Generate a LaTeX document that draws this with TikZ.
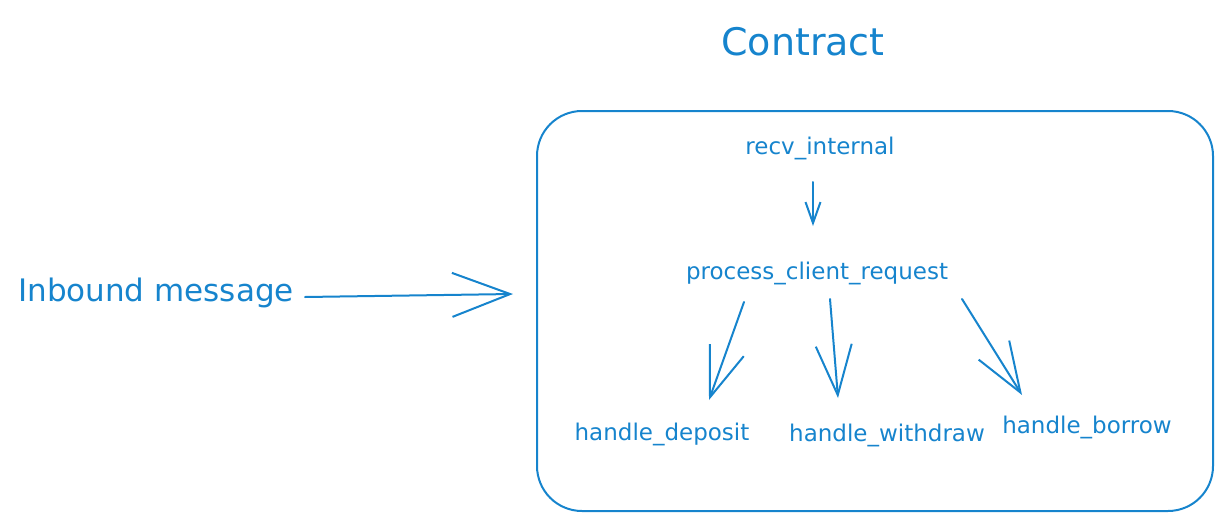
\documentclass[tikz,border=0pt]{standalone}
\usepackage{fontspec}
\setmainfont{DejaVu Sans}
\usetikzlibrary{arrows.meta,calc}
\definecolor{mainblue}{RGB}{22,132,205}
\tikzset{
  lbl/.style={text=mainblue, inner sep=0pt, font=\fontsize{23}{26}\selectfont},
  big/.style={text=mainblue, inner sep=0pt, font=\fontsize{31}{35}\selectfont},
  arr/.style={draw=mainblue, line width=2pt, line cap=round, line join=round},
  bigtip/.style={-{Straight Barb[length=58pt,width=44pt,line width=2pt]}},
  midtip/.style={-{Straight Barb[length=50pt,width=36pt,line width=2pt]}},
  smalltip/.style={-{Straight Barb[length=21pt,width=15pt,line width=2pt]}},
}
\begin{document}
\begin{tikzpicture}[x=1pt,y=-1pt]
\useasboundingbox (0,0) rectangle (1231,530);
\node[big, font=\fontsize{38}{42}\selectfont] (title) at (803,42) {Contract};
\node[draw=mainblue, line width=2pt, rounded corners=45pt, minimum width=676pt, minimum height=400pt, anchor=north west] (box) at (536,110) {};
\node[big] (inbound) at (156,293) {Inbound message};
\node[lbl] (recv) at (820,148) {recv\_internal};
\node[lbl] (proc) at (817,273) {process\_client\_request};
\node[lbl] (dep) at (662,434) {handle\_deposit};
\node[lbl] (wd) at (887,435) {handle\_withdraw};
\node[lbl] (bor) at (1087,427) {handle\_borrow};
\draw[arr,bigtip] ([shift={(0,4)}]inbound.east -| 305,0) -- ([shift={(-23,-17)}]box.west);
\draw[arr,smalltip] ([shift={(-7,34)}]recv.center) -- ([shift={(-4,-47)}]proc.center);
\draw[arr,midtip] ([shift={(-73,29)}]proc.center) -- ([shift={(47,-34)}]dep.center);
\draw[arr,midtip] ([shift={(13,26)}]proc.center) -- ([shift={(-49,-37)}]wd.center);
\draw[arr,midtip] ([shift={(145,26)}]proc.center) -- ([shift={(-65,-32)}]bor.center);
\end{tikzpicture}
\end{document}
